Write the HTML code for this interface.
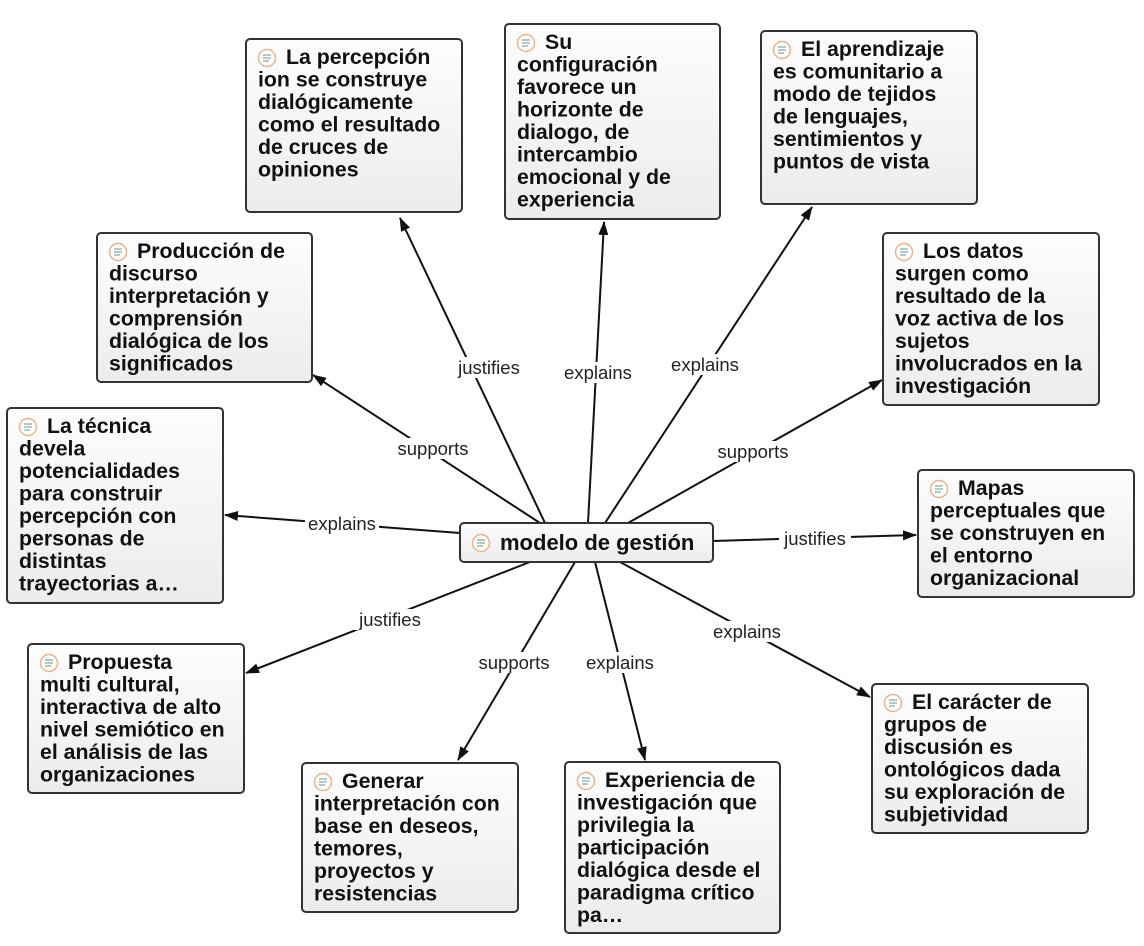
<!DOCTYPE html>
<html><head><meta charset="utf-8"><style>
body{margin:0;background:#fff;}
svg{display:block;font-family:"Liberation Sans",Arial,sans-serif;}
.n{fill:url(#g);stroke:#333;stroke-width:2;}
.t{font-size:21.3px;fill:#111;font-weight:bold;}
.l{font-size:18.5px;fill:#222;}
.e{stroke:#111;stroke-width:2;fill:none;marker-end:url(#a);}
</style></head><body>
<svg width="1144" height="946" viewBox="0 0 1144 946">
<defs>
<linearGradient id="g" x1="0" y1="0" x2="0" y2="1"><stop offset="0" stop-color="#fdfdfd"/><stop offset="1" stop-color="#ececec"/></linearGradient>
<marker id="a" markerWidth="14" markerHeight="10" refX="13" refY="5" orient="auto" markerUnits="userSpaceOnUse"><path d="M0,0 L14,5 L0,10 Z" fill="#111"/></marker>
<g id="ic"><circle cx="0" cy="0" r="8.5" fill="#fff" stroke="#e8b48a" stroke-width="1.5"/><path d="M-4,-3h8M-4,0h8M-4,3h6" stroke="#8aa" stroke-width="1.3"/></g>
</defs>
<g>
<line class="e" x1="545" y1="523" x2="400" y2="218"/>
<line class="e" x1="588" y1="523" x2="604" y2="222"/>
<line class="e" x1="605" y1="523" x2="812" y2="207"/>
<line class="e" x1="540" y1="523" x2="313" y2="375"/>
<line class="e" x1="628" y1="523" x2="882" y2="380"/>
<line class="e" x1="460" y1="533" x2="225" y2="515"/>
<line class="e" x1="713" y1="541" x2="916" y2="535"/>
<line class="e" x1="530" y1="562" x2="246" y2="673"/>
<line class="e" x1="620" y1="562" x2="870" y2="697"/>
<line class="e" x1="575" y1="562" x2="458" y2="760"/>
<line class="e" x1="595" y1="562" x2="645" y2="760"/>
</g>
<g class="l" text-anchor="middle">
<rect x="453" y="357" width="72" height="21" fill="#fff"/><text x="489" y="374">justifies</text>
<rect x="561" y="362" width="74" height="21" fill="#fff"/><text x="598" y="379">explains</text>
<rect x="668" y="354" width="74" height="21" fill="#fff"/><text x="705" y="371">explains</text>
<rect x="394" y="438" width="78" height="21" fill="#fff"/><text x="433" y="455">supports</text>
<rect x="714" y="441" width="78" height="21" fill="#fff"/><text x="753" y="458">supports</text>
<rect x="305" y="513" width="74" height="21" fill="#fff"/><text x="342" y="530">explains</text>
<rect x="779" y="528" width="72" height="21" fill="#fff"/><text x="815" y="545">justifies</text>
<rect x="354" y="609" width="72" height="21" fill="#fff"/><text x="390" y="626">justifies</text>
<rect x="710" y="621" width="74" height="21" fill="#fff"/><text x="747" y="638">explains</text>
<rect x="475" y="652" width="78" height="21" fill="#fff"/><text x="514" y="669">supports</text>
<rect x="583" y="652" width="74" height="21" fill="#fff"/><text x="620" y="669">explains</text>
</g>

<rect class="n" x="460" y="523" width="253" height="39" rx="4"/>
<use href="#ic" x="481" y="543"/>
<text class="t" x="500" y="550" style="font-size:22px">modelo de gestión</text>

<g>
<rect class="n" x="246" y="39" width="216" height="173" rx="4"/><use href="#ic" x="267" y="58"/>
<text class="t" x="258" y="64"><tspan x="286">La percepción</tspan><tspan x="258" dy="22.5">ion se construye</tspan><tspan x="258" dy="22.5">dialógicamente</tspan><tspan x="258" dy="22.5">como el resultado</tspan><tspan x="258" dy="22.5">de cruces de</tspan><tspan x="258" dy="22.5">opiniones</tspan></text>

<rect class="n" x="505" y="24" width="215" height="195" rx="4"/><use href="#ic" x="526" y="43"/>
<text class="t" x="517" y="49"><tspan x="545">Su</tspan><tspan x="517" dy="22.5">configuración</tspan><tspan x="517" dy="22.5">favorece un</tspan><tspan x="517" dy="22.5">horizonte de</tspan><tspan x="517" dy="22.5">dialogo, de</tspan><tspan x="517" dy="22.5">intercambio</tspan><tspan x="517" dy="22.5">emocional y de</tspan><tspan x="517" dy="22.5">experiencia</tspan></text>

<rect class="n" x="761" y="31" width="216" height="173" rx="4"/><use href="#ic" x="782" y="50"/>
<text class="t" x="773" y="56"><tspan x="801">El aprendizaje</tspan><tspan x="773" dy="22.5">es comunitario a</tspan><tspan x="773" dy="22.5">modo de tejidos</tspan><tspan x="773" dy="22.5">de lenguajes,</tspan><tspan x="773" dy="22.5">sentimientos y</tspan><tspan x="773" dy="22.5">puntos de vista</tspan></text>

<rect class="n" x="97" y="233" width="215" height="149" rx="4"/><use href="#ic" x="118" y="252"/>
<text class="t" x="109" y="258"><tspan x="137">Producción de</tspan><tspan x="109" dy="22.5">discurso</tspan><tspan x="109" dy="22.5">interpretación y</tspan><tspan x="109" dy="22.5">comprensión</tspan><tspan x="109" dy="22.5">dialógica de los</tspan><tspan x="109" dy="22.5">significados</tspan></text>

<rect class="n" x="883" y="233" width="216" height="172" rx="4"/><use href="#ic" x="904" y="252"/>
<text class="t" x="895" y="258"><tspan x="923">Los datos</tspan><tspan x="895" dy="22.5">surgen como</tspan><tspan x="895" dy="22.5">resultado de la</tspan><tspan x="895" dy="22.5">voz activa de los</tspan><tspan x="895" dy="22.5">sujetos</tspan><tspan x="895" dy="22.5">involucrados en la</tspan><tspan x="895" dy="22.5">investigación</tspan></text>

<rect class="n" x="7" y="408" width="216" height="195" rx="4"/><use href="#ic" x="28" y="427"/>
<text class="t" x="19" y="433"><tspan x="47">La técnica</tspan><tspan x="19" dy="22.5">devela</tspan><tspan x="19" dy="22.5">potencialidades</tspan><tspan x="19" dy="22.5">para construir</tspan><tspan x="19" dy="22.5">percepción con</tspan><tspan x="19" dy="22.5">personas de</tspan><tspan x="19" dy="22.5">distintas</tspan><tspan x="19" dy="22.5">trayectorias a…</tspan></text>

<rect class="n" x="918" y="470" width="216" height="127" rx="4"/><use href="#ic" x="939" y="489"/>
<text class="t" x="930" y="495"><tspan x="958">Mapas</tspan><tspan x="930" dy="22.5">perceptuales que</tspan><tspan x="930" dy="22.5">se construyen en</tspan><tspan x="930" dy="22.5">el entorno</tspan><tspan x="930" dy="22.5">organizacional</tspan></text>

<rect class="n" x="28" y="644" width="216" height="149" rx="4"/><use href="#ic" x="49" y="663"/>
<text class="t" x="40" y="669"><tspan x="68">Propuesta</tspan><tspan x="40" dy="22.5">multi cultural,</tspan><tspan x="40" dy="22.5">interactiva de alto</tspan><tspan x="40" dy="22.5">nivel semiótico en</tspan><tspan x="40" dy="22.5">el análisis de las</tspan><tspan x="40" dy="22.5">organizaciones</tspan></text>

<rect class="n" x="872" y="684" width="216" height="149" rx="4"/><use href="#ic" x="893" y="703"/>
<text class="t" x="884" y="709"><tspan x="912">El carácter de</tspan><tspan x="884" dy="22.5">grupos de</tspan><tspan x="884" dy="22.5">discusión es</tspan><tspan x="884" dy="22.5">ontológicos dada</tspan><tspan x="884" dy="22.5">su exploración de</tspan><tspan x="884" dy="22.5">subjetividad</tspan></text>

<rect class="n" x="302" y="763" width="216" height="149" rx="4"/><use href="#ic" x="323" y="782"/>
<text class="t" x="314" y="788"><tspan x="342">Generar</tspan><tspan x="314" dy="22.5">interpretación con</tspan><tspan x="314" dy="22.5">base en deseos,</tspan><tspan x="314" dy="22.5">temores,</tspan><tspan x="314" dy="22.5">proyectos y</tspan><tspan x="314" dy="22.5">resistencias</tspan></text>

<rect class="n" x="565" y="762" width="215" height="171" rx="4"/><use href="#ic" x="586" y="781"/>
<text class="t" x="577" y="787"><tspan x="605">Experiencia de</tspan><tspan x="577" dy="22.5">investigación que</tspan><tspan x="577" dy="22.5">privilegia la</tspan><tspan x="577" dy="22.5">participación</tspan><tspan x="577" dy="22.5">dialógica desde el</tspan><tspan x="577" dy="22.5">paradigma crítico</tspan><tspan x="577" dy="22.5">pa…</tspan></text>
</g>
</svg>
</body></html>
